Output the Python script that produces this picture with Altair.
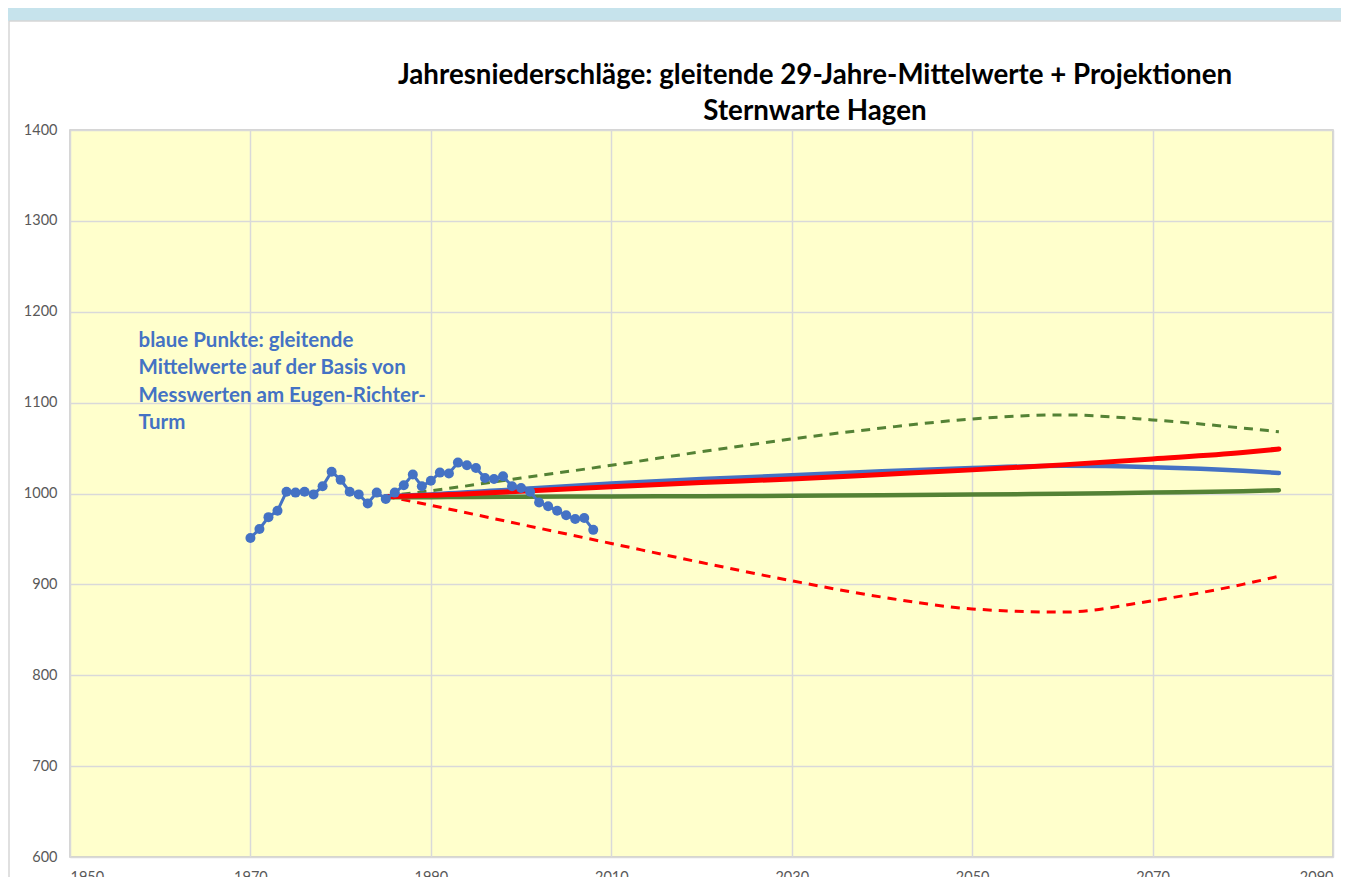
import altair as alt
import pandas as pd

# ---------------- data ----------------
obs_years = list(range(1970, 2009))
obs_values = [951, 961, 974, 981, 1002, 1001, 1002, 999, 1008, 1024,
              1015, 1002, 999, 989, 1001, 994, 1001, 1009, 1021, 1008,
              1014, 1023, 1022, 1034, 1031, 1028, 1017, 1016, 1019, 1008,
              1006, 1002, 990, 986, 981, 976, 972, 973, 960]

proj_years = [1985, 1990, 2000, 2010, 2020, 2030, 2040, 2050, 2060, 2070, 2080, 2084]
red_thick = [996.5, 998, 1002.5, 1007.5, 1012, 1016, 1021, 1026, 1031.5, 1038, 1045, 1049]
blue_thick = [997, 999, 1005, 1011, 1016, 1020, 1024.5, 1028, 1030.5, 1029, 1025, 1022.5]
green_thick = [996, 996, 996.5, 996.8, 997, 997.5, 998, 998.8, 999.8, 1001, 1002.5, 1003.5]
green_dashed = [997, 1003, 1017, 1031, 1046, 1060, 1072, 1082, 1086.5, 1081, 1072, 1068]
red_dashed = [997, 987, 966, 945, 924, 904, 886, 873, 869.5, 882, 900, 909]

x_ticks = [1950, 1970, 1990, 2010, 2030, 2050, 2070, 2090]
y_ticks = [600, 700, 800, 900, 1000, 1100, 1200, 1300, 1400]

title_line1 = "Jahresniederschläge: gleitende 29-Jahre-Mittelwerte + Projektionen"
title_line2 = "Sternwarte Hagen"
note_lines = ["blaue Punkte: gleitende", "Mittelwerte auf der Basis von",
              "Messwerten am Eugen-Richter-", "Turm"]
note_year = 1957.6
note_value = 1161

# ---------------- layout ----------------
W, H = 1263, 727
PAD_L, PAD_T, PAD_R, PAD_B = 62, 122, 8, 40

BLUE = "#4472C4"
RED = "#FF0000"
GREEN = "#548235"
FONT = "Lato"

xscale = alt.Scale(domain=[1950, 2090], nice=False, zero=False)
yscale = alt.Scale(domain=[600, 1400], nice=False, zero=False)
X = alt.X("year:Q", scale=xscale,
          axis=alt.Axis(values=x_ticks, format="d", title=None, labelPadding=13))
Y = alt.Y("value:Q", scale=yscale,
          axis=alt.Axis(values=y_ticks, format="d", title=None, labelPadding=13))

obs_df = pd.DataFrame({"year": obs_years, "value": obs_values})


def series(vals):
    return pd.DataFrame({"year": proj_years, "value": vals})


one = alt.Data(values=[{}])

# decorative frame (blue band above the white panel, panel border)
band = alt.Chart(one).mark_rect(color="#C6E3EC").encode(
    x=alt.value(-PAD_L), x2=alt.value(W + PAD_R),
    y=alt.value(-PAD_T), y2=alt.value(-PAD_T + 13))
border_top = alt.Chart(one).mark_rule(color="#D6D6D6", strokeWidth=1.5).encode(
    x=alt.value(-PAD_L + 1), x2=alt.value(W + PAD_R),
    y=alt.value(-PAD_T + 13))
border_left = alt.Chart(one).mark_rule(color="#D6D6D6", strokeWidth=1.5).encode(
    x=alt.value(-PAD_L + 1),
    y=alt.value(-PAD_T + 13), y2=alt.value(H + PAD_B))

title1 = alt.Chart(one).mark_text(
    font=FONT, fontSize=27.7, fontWeight="bold", color="black",
    align="center", baseline="middle"
).encode(x=alt.value(745), y=alt.value(-54), text=alt.value(title_line1))
title2 = alt.Chart(one).mark_text(
    font=FONT, fontSize=27.7, fontWeight="bold", color="black",
    align="center", baseline="middle"
).encode(x=alt.value(745), y=alt.value(-18), text=alt.value(title_line2))


def line(vals, color, width, dash=None):
    kw = dict(color=color, strokeWidth=width, interpolate="monotone")
    if dash:
        kw["strokeDash"] = dash
        kw["strokeCap"] = "butt"
    else:
        kw["strokeCap"] = "round"
    return alt.Chart(series(vals)).mark_line(**kw).encode(x=X, y=Y)


l_gd = line(green_dashed, GREEN, 3, [9, 7])
l_rd = line(red_dashed, RED, 3, [9, 7])
l_g = line(green_thick, GREEN, 4.5)
l_b = line(blue_thick, BLUE, 4.5)
l_r = line(red_thick, RED, 5)

obs = alt.Chart(obs_df).mark_line(
    color=BLUE, strokeWidth=3,
    point=alt.OverlayMarkDef(color=BLUE, filled=True, size=100, opacity=1)
).encode(x=X, y=Y)

note = alt.Chart(alt.Data(values=[{"year": note_year, "value": note_value, "t": note_lines}])).mark_text(
    align="left", baseline="alphabetic", font=FONT, fontSize=20.5, fontWeight="bold",
    color=BLUE, lineHeight=27.3
).encode(x=X, y=Y, text="t:N")

chart = alt.layer(band, border_top, border_left, title1, title2,
                  l_gd, l_rd, l_g, l_b, l_r, obs, note).properties(
    width=W, height=H,
    padding={"left": PAD_L, "top": PAD_T, "right": PAD_R, "bottom": PAD_B},
    autosize=alt.AutoSizeParams(type="none"),
    background="white",
).configure_view(
    fill="#FFFFCC", stroke="#C8C8C8", strokeWidth=1.5
).configure_axis(
    grid=True, gridColor="#D9D9D9", gridWidth=1.5, domain=False, ticks=False,
    labelColor="#595959", labelFont=FONT, labelFontSize=14.5
)

chart.save("out.html", embed_options={"renderer": "svg", "actions": False})
